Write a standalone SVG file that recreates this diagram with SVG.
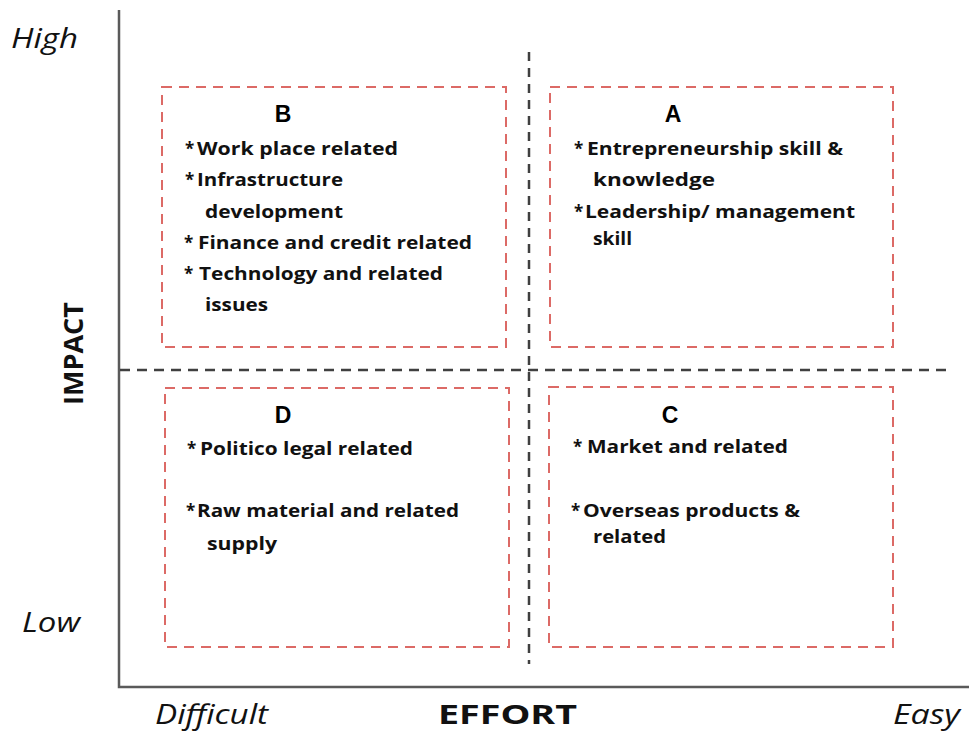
<svg xmlns="http://www.w3.org/2000/svg" width="969" height="734" viewBox="0 0 969 734">
<style>
.axis{stroke:#5a5a5a;stroke-width:2.5;fill:none}
.div{stroke:#404040;stroke-width:2.5;fill:none}
.box{fill:none;stroke:#dc6a66;stroke-width:2;stroke-dasharray:10 7}
.t{font-family:"Open Sans","Liberation Sans",sans-serif;font-weight:bold;font-size:17px;fill:#111}
.ast{font-family:"Open Sans","Liberation Sans",sans-serif;font-weight:bold;font-size:17px;fill:#111}
.lab{font-family:"Liberation Sans",Arial,sans-serif;font-weight:bold;font-size:23px;fill:#000;text-anchor:middle}
.ax{font-family:"Open Sans","Liberation Sans",sans-serif;font-style:italic;font-size:27px;fill:#111}
.axb{font-family:"Open Sans","Liberation Sans",sans-serif;font-weight:bold;font-size:27px;fill:#111}
</style>
<rect width="969" height="734" fill="#fff"/>
<g id="axes">
<path class="axis" d="M119,10 V687 H969"/>
<text class="ax" x="11" y="48" textLength="67" lengthAdjust="spacingAndGlyphs">High</text>
<text class="ax" x="22" y="632" textLength="58" lengthAdjust="spacingAndGlyphs">Low</text>
<text class="ax" x="155" y="724" textLength="113" lengthAdjust="spacingAndGlyphs">Difficult</text>
<text class="axb" x="438" y="724" textLength="139" lengthAdjust="spacingAndGlyphs">EFFORT</text>
<text class="ax" x="893" y="724" textLength="67" lengthAdjust="spacingAndGlyphs">Easy</text>
<text class="axb" transform="translate(83,405) rotate(-90)" x="0" y="0" textLength="103" lengthAdjust="spacingAndGlyphs">IMPACT</text>
</g>
<g id="connectors">
<line class="div" x1="120" y1="370" x2="948" y2="370" stroke-dasharray="10 7"/>
<line class="div" x1="529" y1="52" x2="529" y2="664" stroke-dasharray="9 7"/>
</g>
<g id="quadrant-B">
<rect class="box" x="162" y="87" width="344" height="260"/>
<text class="lab" x="283" y="122">B</text>
<text class="t" y="155"><tspan class="ast" x="185">*</tspan><tspan x="197" textLength="201" lengthAdjust="spacingAndGlyphs">Work place related</tspan></text>
<text class="t" y="186"><tspan class="ast" x="185">*</tspan><tspan x="197" textLength="146" lengthAdjust="spacingAndGlyphs">Infrastructure</tspan></text>
<text class="t" x="205" y="218" textLength="138" lengthAdjust="spacingAndGlyphs">development</text>
<text class="t" y="249"><tspan class="ast" x="184">*</tspan><tspan x="198" textLength="274" lengthAdjust="spacingAndGlyphs">Finance and credit related</tspan></text>
<text class="t" y="280"><tspan class="ast" x="184">*</tspan><tspan x="199" textLength="244" lengthAdjust="spacingAndGlyphs">Technology and related</tspan></text>
<text class="t" x="205" y="311" textLength="63" lengthAdjust="spacingAndGlyphs">issues</text>
</g>
<g id="quadrant-A">
<rect class="box" x="550" y="87" width="343" height="260"/>
<text class="lab" x="673" y="122">A</text>
<text class="t" y="155"><tspan class="ast" x="574">*</tspan><tspan x="587" textLength="256" lengthAdjust="spacingAndGlyphs">Entrepreneurship skill &amp;</tspan></text>
<text class="t" x="593" y="186" textLength="122" lengthAdjust="spacingAndGlyphs">knowledge</text>
<text class="t" y="218"><tspan class="ast" x="574">*</tspan><tspan x="585" textLength="270" lengthAdjust="spacingAndGlyphs">Leadership/ management</tspan></text>
<text class="t" x="593" y="245" textLength="39" lengthAdjust="spacingAndGlyphs">skill</text>
</g>
<g id="quadrant-D">
<rect class="box" x="165" y="388" width="344" height="259"/>
<text class="lab" x="283" y="423">D</text>
<text class="t" y="455"><tspan class="ast" x="187">*</tspan><tspan x="200" textLength="213" lengthAdjust="spacingAndGlyphs">Politico  legal related</tspan></text>
<text class="t" y="517"><tspan class="ast" x="186">*</tspan><tspan x="197" textLength="262" lengthAdjust="spacingAndGlyphs">Raw material and related</tspan></text>
<text class="t" x="207" y="550" textLength="70" lengthAdjust="spacingAndGlyphs">supply</text>
</g>
<g id="quadrant-C">
<rect class="box" x="549" y="387" width="344" height="260"/>
<text class="lab" x="670" y="423">C</text>
<text class="t" y="453"><tspan class="ast" x="573">*</tspan><tspan x="587" textLength="201" lengthAdjust="spacingAndGlyphs">Market and related</tspan></text>
<text class="t" y="517"><tspan class="ast" x="571">*</tspan><tspan x="583" textLength="217" lengthAdjust="spacingAndGlyphs">Overseas products &amp;</tspan></text>
<text class="t" x="593" y="543" textLength="73" lengthAdjust="spacingAndGlyphs">related</text>
</g>
</svg>
